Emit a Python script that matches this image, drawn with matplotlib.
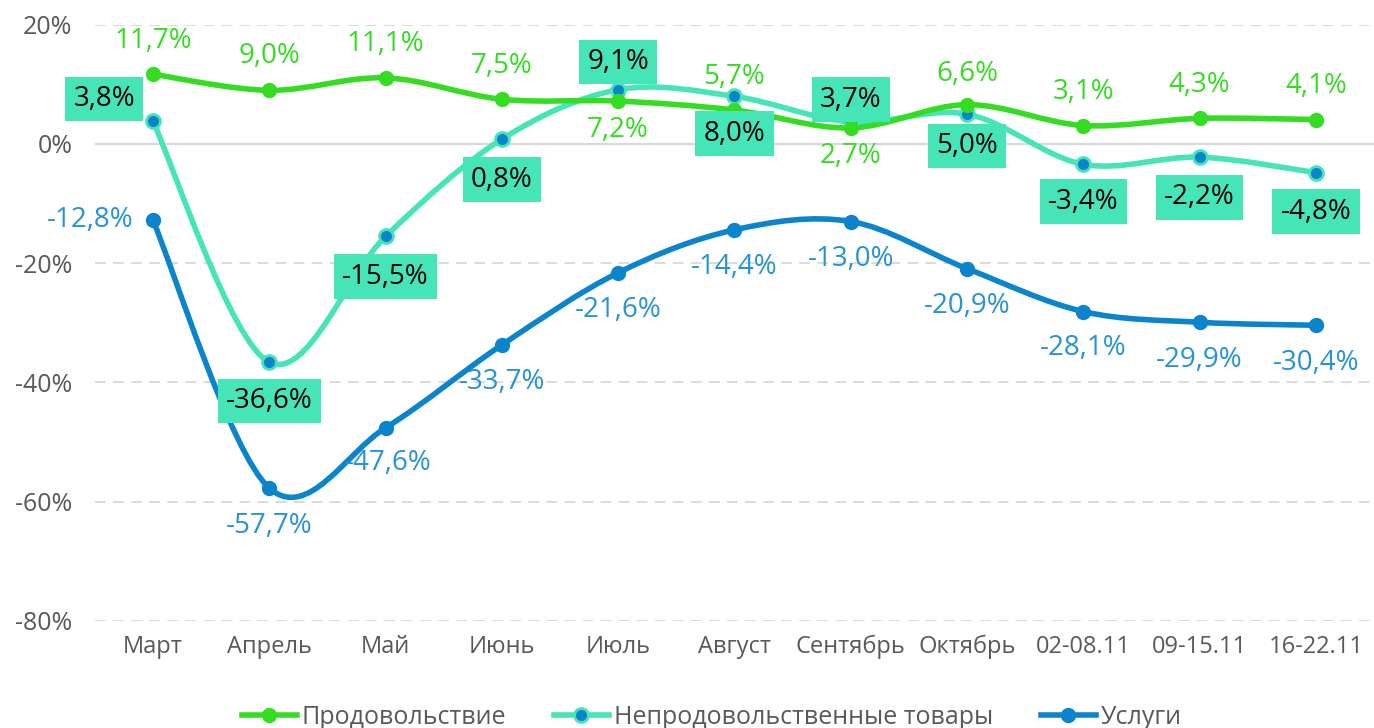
import numpy as np
import matplotlib
matplotlib.use("Agg")
import matplotlib.pyplot as plt
from matplotlib.path import Path
from matplotlib.patches import PathPatch
from matplotlib.lines import Line2D

plt.rcParams["font.family"] = ["Open Sans", "DejaVu Sans"]

categories = ["Март", "Апрель", "Май", "Июнь", "Июль", "Август", "Сентябрь",
              "Октябрь", "02-08.11", "09-15.11", "16-22.11"]
food = [11.7, 9.0, 11.1, 7.5, 7.2, 5.7, 2.7, 6.6, 3.1, 4.3, 4.1]
nonfood = [3.8, -36.6, -15.5, 0.8, 9.1, 8.0, 3.7, 5.0, -3.4, -2.2, -4.8]
services = [-12.8, -57.7, -47.6, -33.7, -21.6, -14.4, -13.0, -20.9, -28.1, -29.9, -30.4]
series_names = ["Продовольствие", "Непродовольственные товары", "Услуги"]

GREEN = "#35dd22"
TEAL = "#45e5b8"
BLUE = "#0a84cc"
LBLUE = "#2593d6"
GRAY = "#595959"


def smooth_path(xs, ys):
    # Excel-like smoothed line drawn as cubic Bezier segments
    pts = np.column_stack([xs, ys]).astype(float)
    n = len(pts)
    verts = [pts[0]]
    codes = [Path.MOVETO]
    for i in range(n - 1):
        p0 = pts[i - 1] if i > 0 else pts[i]
        p1 = pts[i]
        p2 = pts[i + 1]
        p3 = pts[i + 2] if i + 2 < n else pts[i + 1]
        c1 = p1 + (p2 - p0) / 6.0
        c2 = p2 - (p3 - p1) / 6.0
        verts += [c1, c2, p2]
        codes += [Path.CURVE4] * 3
    return Path(verts, codes)


fig = plt.figure(figsize=(13.74, 7.28), dpi=100)
ax = fig.add_axes([0.069, 0.147, 0.931, 0.819])
x = np.arange(len(categories))

ax.set_xlim(-0.5, len(categories) - 0.5)
ax.set_ylim(-80, 20)
ax.set_yticks(np.arange(-80, 21, 20))
ax.set_yticklabels([f"{v}%" for v in range(-80, 21, 20)])
ax.set_xticks(x)
ax.set_xticklabels(categories)
for v in range(-80, 21, 20):
    if v == 0:
        ax.axhline(v, color="#d9d9d9", lw=1.5, zorder=0)
    else:
        ax.axhline(v, color="#d9d9d9", lw=1.3, ls=(0, (6, 4)), zorder=0)
for s in ax.spines.values():
    s.set_visible(False)
ax.tick_params(length=0, colors=GRAY)
ax.tick_params(axis="x", labelsize=17, pad=10)
ax.tick_params(axis="y", labelsize=18, pad=16)

for ys, col, z in [(services, BLUE, 2), (nonfood, TEAL, 3), (food, GREEN, 4)]:
    ax.add_patch(PathPatch(smooth_path(x, ys), fill=False, ec=col, lw=4, zorder=z,
                           capstyle="round"))

ax.plot(x, services, ls="none", marker="o", ms=10, mfc=BLUE, mec=BLUE, zorder=5)
ax.plot(x, nonfood, ls="none", marker="o", ms=10, mfc=BLUE, mec=TEAL, mew=2, zorder=5)
ax.plot(x, food, ls="none", marker="o", ms=10, mfc=GREEN, mec=GREEN, zorder=5)


def fmt(v):
    return f"{v:.1f}%".replace(".", ",")


LS = 20

# food labels: offsets in points
food_off = [(0, 24), (0, 25), (0, 24), (0, 24), (0, -21), (0, 24), (0, -20),
            (0, 22), (0, 24), (0, 24), (0, 24)]
for i, v in enumerate(food):
    dx, dy = food_off[i]
    ax.annotate(fmt(v), (x[i], v), xytext=(dx, dy), textcoords="offset points",
                ha="center", va="center", color=GREEN, fontsize=LS, zorder=7)

nonfood_off = [(-35, 16), (0, -28), (0, -29), (0, -29), (0, 20), (0, -27), (0, 16),
               (0, -23), (0, -27), (0, -29), (0, -28)]
for i, v in enumerate(nonfood):
    dx, dy = nonfood_off[i]
    ax.annotate(fmt(v), (x[i], v), xytext=(dx, dy), textcoords="offset points",
                ha="center", va="center", color="black", fontsize=LS, zorder=8,
                bbox=dict(boxstyle="square,pad=0.3", fc=TEAL, ec="none"))

serv_off = [(-45, 0), (0, -27), (2, -25), (0, -27), (0, -27), (0, -27), (0, -27),
            (0, -27), (0, -26), (0, -27), (0, -27)]
for i, v in enumerate(services):
    dx, dy = serv_off[i]
    ax.annotate(fmt(v), (x[i], v), xytext=(dx, dy), textcoords="offset points",
                ha="center", va="center", color=LBLUE, fontsize=LS, zorder=7)

handles = [
    Line2D([], [], color=GREEN, lw=4, marker="o", ms=10, mfc=GREEN, mec=GREEN),
    Line2D([], [], color=TEAL, lw=4, marker="o", ms=10, mfc=BLUE, mec=TEAL, mew=2),
    Line2D([], [], color=BLUE, lw=4, marker="o", ms=10, mfc=BLUE, mec=BLUE),
]
fig.legend(handles, series_names, loc="lower center", bbox_to_anchor=(0.518, -0.033),
           ncol=3, frameon=False, fontsize=18, labelcolor=GRAY, handlelength=2.2,
           handletextpad=0.2, columnspacing=1.9)

fig.savefig("out.png", dpi=100)
